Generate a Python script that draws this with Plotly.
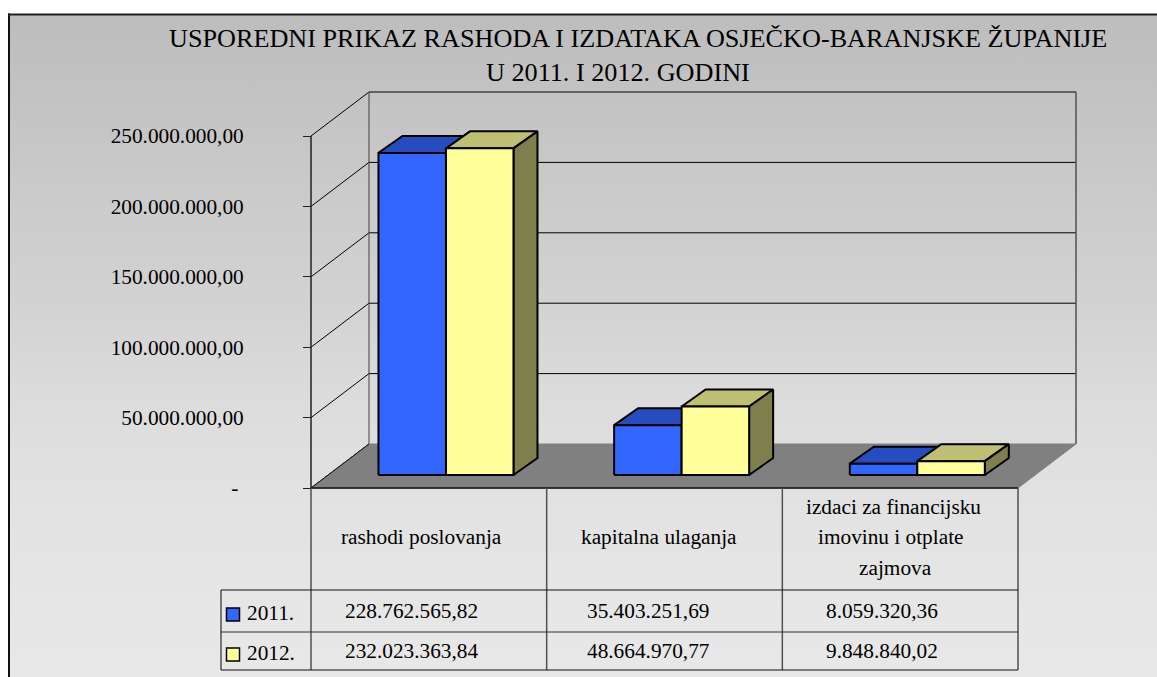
import plotly.graph_objects as go

W, H = 1149, 669   # figure size; with the page margin it fills the 1157x677 window
PAGE = 8  # default page margin of the browser around the figure

# ---- data ----
categories = ["rashodi poslovanja", "kapitalna ulaganja",
              "izdaci za financijsku<br>imovinu i otplate<br>zajmova"]
series_names = ["2011.", "2012."]
values_2011 = [228762565.82, 35403251.69, 8059320.36]
values_2012 = [232023363.84, 48664970.77, 9848840.02]
labels_2011 = ["228.762.565,82", "35.403.251,69", "8.059.320,36"]
labels_2012 = ["232.023.363,84", "48.664.970,77", "9.848.840,02"]
tick_values = [0, 50e6, 100e6, 150e6, 200e6, 250e6]
tick_labels = ["-\u00a0", "50.000.000,00", "100.000.000,00", "150.000.000,00",
               "200.000.000,00", "250.000.000,00"]
title_lines = ["USPOREDNI PRIKAZ RASHODA I IZDATAKA OSJEČKO-BARANJSKE ŽUPANIJE",
               "U 2011. I 2012. GODINI"]

# ---- layout constants (pixels of the page) ----
PX_X0, PX_CAT = 311.0, 235.67     # x of category 0, width of a category
PX_Y0, PX_VAL = 488.0, 352.0 / 250e6  # y of value 0, px per unit of value
DEPTH_PX = (58.0, 44.0)           # 3-D wall offset in px

xr = [(PAGE - PX_X0) / PX_CAT, (PAGE + W - PX_X0) / PX_CAT]
yr = [(PX_Y0 - PAGE - H) / PX_VAL, (PX_Y0 - PAGE) / PX_VAL]
DX = DEPTH_PX[0] / PX_CAT
DY = DEPTH_PX[1] / PX_VAL
BAR_W = 67.5 / PX_CAT
BAR_D0, BAR_D1 = 13.0 / 44.0, 30.0 / 44.0   # depth of bar front and back (fraction of floor depth)
BAR_DX = 24.0 / 58.0


def pr(x, v, d=0.0):
    return x + d * DX, v + d * DY


def px(x):
    return (x - PAGE) / W


def py(y):
    return 1 - (y - PAGE) / H


fig = go.Figure()


def poly(points, fill, line="black", lw=2, name=None):
    xs, ys = zip(*(points + points[:1]))
    fig.add_trace(go.Scatter(x=list(xs), y=list(ys), mode="lines", fill="toself", fillcolor=fill,
                             line=dict(color=line, width=lw), hoverinfo="skip", showlegend=False,
                             name=name))


def seg(a, b, color="black", lw=1):
    fig.add_trace(go.Scatter(x=[a[0], b[0]], y=[a[1], b[1]], mode="lines",
                             line=dict(color=color, width=lw), hoverinfo="skip", showlegend=False))


# background gradient
bg_l, bg_t = (10 - PX_X0) / PX_CAT, (PX_Y0 - 15) / PX_VAL
fig.add_trace(go.Scatter(
    x=[bg_l, xr[1], xr[1], bg_l, bg_l],
    y=[bg_t, bg_t, yr[0], yr[0], bg_t],
    mode="lines", line=dict(width=0), fill="toself", hoverinfo="skip", showlegend=False,
    fillgradient=dict(type="vertical",
                      colorscale=[[0, "#e8e8e8"], [0.116, "#e6e6e6"], [0.267, "#e2e2e2"], [0.418, "#dcdcdc"],
                                  [0.569, "#d2d2d2"], [0.72, "#cbcbcb"], [0.872, "#c3c3c3"], [1, "#bdbdbd"]])))

# walls: gridlines
TOP = tick_values[-1]
for t in tick_values:
    seg(pr(0, t), pr(0, t, 1))
    if t > 0:
        seg(pr(0, t, 1), pr(3, t, 1))
seg(pr(0, 0, 1), pr(0, TOP, 1), color="#404040")
seg(pr(3, 0, 1), pr(3, TOP, 1), color="#505050", lw=1.5)
seg(pr(0, 0), pr(0, TOP), color="#202020", lw=1.5)

# floor
poly([pr(0, 0), pr(3, 0), pr(3, 0, 1), pr(0, 0, 1)], "#808080", line="#808080", lw=1)
seg(pr(0, 0), pr(3, 0), color="#101010", lw=1.5)
seg(pr(0, 0), pr(0, 0, 1), color="#101010", lw=1)

# bars
faces = [("#3366ff", "#254dc0", "#254dc0"), ("#ffff99", "#bfbf73", "#7f7f4d")]
for c in range(3):
    centre = c + 0.5
    for s, vals in enumerate([values_2011, values_2012]):
        v = vals[c]
        left = centre - BAR_W + s * BAR_W
        right = left + BAR_W
        front, top, side = faces[s]
        base = 0.0
        d0, d1 = BAR_D0, BAR_D1
        ddx = (BAR_DX - (d1 - d0)) * DX  # horizontal depth slightly wider than vertical
        a = pr(left, base, d0); b = pr(right, base, d0)
        a2 = pr(left, v, d0); b2 = pr(right, v, d0)
        c2 = pr(right, v, d1); d2 = pr(left, v, d1)
        c1 = pr(right, base, d1)
        c2 = (c2[0] + ddx, c2[1]); d2 = (d2[0] + ddx, d2[1]); c1 = (c1[0] + ddx, c1[1])
        poly([a2, b2, c2, d2], top, name=series_names[s])
        poly([b, c1, c2, b2], side, name=series_names[s])
        poly([a, b, b2, a2], front, name=series_names[s])

# frame
shapes = []


def line(x0, y0, x1, y1, color="#202020", width=1):
    shapes.append(dict(type="line", xref="paper", yref="paper", x0=px(x0), x1=px(x1), y0=py(y0), y1=py(y1),
                       line=dict(color=color, width=width)))


line(9, 13.5, 9, PAGE + H, color="#101010", width=2)
line(8, 14.5, PAGE + W, 14.5, color="#202020", width=2)

# data table
T_TOP, T_ROW, T_BOT = 590, 632, 670
T_LEFT = 221
col_x = [PX_X0 + PX_CAT * i for i in range(4)]
for x in col_x:
    line(x, PX_Y0, x, T_BOT, color="#505050", width=1.5)
line(T_LEFT, T_TOP, T_LEFT, T_BOT, color="#505050", width=1.5)
line(T_LEFT, T_TOP, col_x[3], T_TOP, color="#101010")
line(T_LEFT, T_ROW, col_x[3], T_ROW, color="#303030")
line(T_LEFT, T_BOT, col_x[3], T_BOT, color="#101010")

# legend keys
for ytop, colr in [(608, faces[0][0]), (648, faces[1][0])]:
    shapes.append(dict(type="rect", xref="paper", yref="paper", x0=px(226.5), x1=px(239.5), y0=py(ytop), y1=py(ytop + 13),
                       fillcolor=colr, line=dict(color="black", width=1.5)))

FONT = "Liberation Serif"
FS = 21.3
ann = []


def text(x, y, s, size=FS, xanchor="center"):
    ann.append(dict(xref="paper", yref="paper", x=px(x), y=py(y), text=s, showarrow=False,
                    xanchor=xanchor, yanchor="middle", align="center",
                    font=dict(family=FONT, size=size, color="black")))


text(638, 38, title_lines[0], size=26.2)
text(618, 72, title_lines[1], size=26.2)
text(421, 537, categories[0])
text(659, 537, categories[1])
for y, x, s in zip([507, 537, 568], [893, 891, 895], categories[2].split("<br>")):
    text(x, y, s)
for x, a, b in zip([411, 648, 882], labels_2011, labels_2012):
    text(x, 611, a)
    text(x, 651, b)
text(245, 613, series_names[0], xanchor="left")
text(245, 653, series_names[1], xanchor="left")

fig.update_layout(
    width=W, height=H, autosize=False, margin=dict(l=0, r=0, t=0, b=0),
    paper_bgcolor="white", plot_bgcolor="rgba(0,0,0,0)", showlegend=False,
    shapes=shapes, annotations=ann,
    xaxis=dict(range=xr, visible=False, fixedrange=True),
    yaxis=dict(range=yr, anchor="free", position=(PX_X0 - PAGE) / W, side="left",
               tickmode="array", tickvals=tick_values, ticktext=tick_labels,
               ticks="outside", ticklen=8, tickcolor="#202020", tickwidth=1,
               ticklabelstandoff=55, showgrid=False, zeroline=False, showline=False,
               tickfont=dict(family=FONT, size=FS, color="black"), fixedrange=True),
)
fig.write_html("out.html", config=dict(displayModeBar=False),
               post_script="document.body.style.marginRight='0';document.body.style.marginBottom='0';"
                           "document.documentElement.style.overflow='hidden';document.body.style.overflow='visible';")
